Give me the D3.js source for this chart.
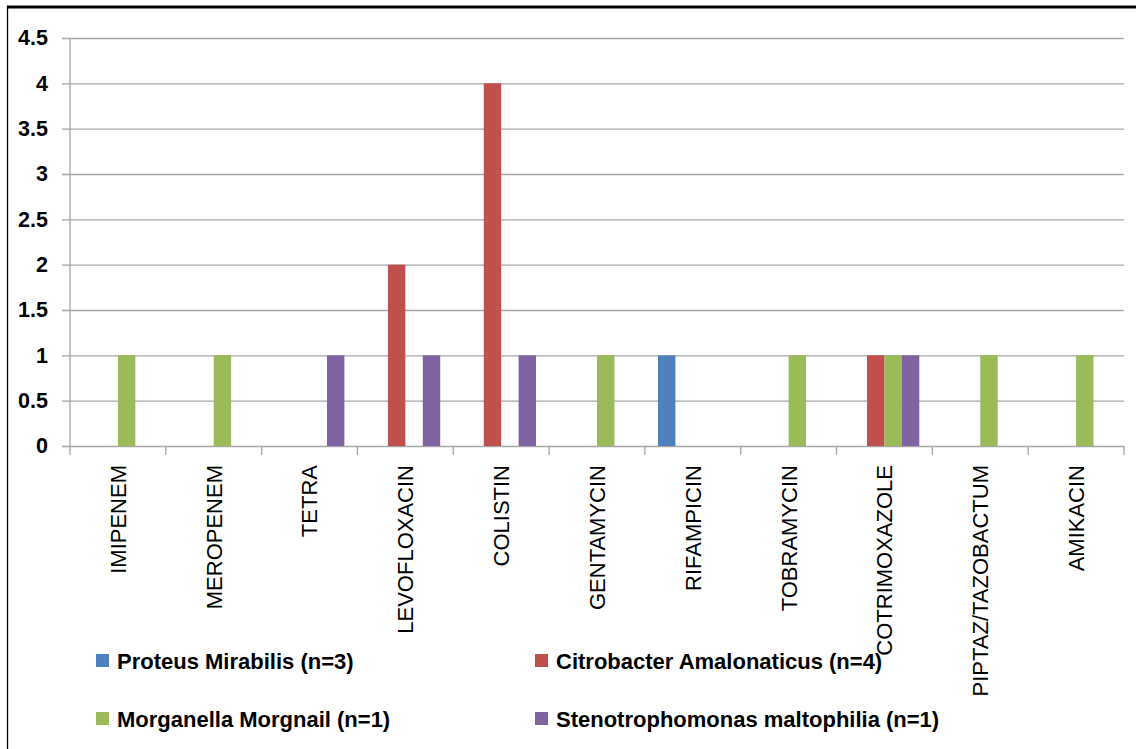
<!DOCTYPE html>
<html>
<head>
<meta charset="utf-8">
<script src="https://cdn.jsdelivr.net/npm/d3@7"></script>
<style>
  body { margin: 0; background: #fff; }
  svg { display: block; }
  .axis text { font-family: "Liberation Sans", Arial, sans-serif; fill: #000; }
</style>
</head>
<body>
<svg id="chart"></svg>
<script>
// antibiotics on the x axis
const categories = ['IMIPENEM', 'MEROPENEM', 'TETRA', 'LEVOFLOXACIN', 'COLISTIN', 'GENTAMYCIN',
  'RIFAMPICIN', 'TOBRAMYCIN', 'COTRIMOXAZOLE', 'PIPTAZ/TAZOBACTUM', 'AMIKACIN'];

const seriesNames = ['Proteus Mirabilis (n=3)', 'Citrobacter Amalonaticus (n=4)',
  'Morganella Morgnail (n=1)', 'Stenotrophomonas maltophilia (n=1)'];

// one value per category, per series
const proteus     = [0, 0, 0, 0, 0, 0, 1, 0, 0, 0, 0];
const citrobacter = [0, 0, 0, 2, 4, 0, 0, 0, 1, 0, 0];
const morganella  = [1, 1, 0, 0, 0, 1, 0, 1, 1, 1, 1];
const steno       = [0, 0, 1, 1, 1, 0, 0, 0, 1, 0, 0];

const yTicks = [0, 0.5, 1, 1.5, 2, 2.5, 3, 3.5, 4, 4.5];

const colors = ['#4F81BD', '#C0504D', '#9BBB59', '#8064A2'];

class GroupedBars {
  constructor(_config, _data) {
    this.config = {
      parentElement: _config.parentElement,
      containerWidth: _config.containerWidth || 1136,
      containerHeight: _config.containerHeight || 749,
      margin: _config.margin || {top: 38, right: 12, bottom: 303, left: 70}
    };
    this.data = _data;
    this.initVis();
  }

  initVis() {
    let vis = this;
    vis.width = vis.config.containerWidth - vis.config.margin.left - vis.config.margin.right;
    vis.height = vis.config.containerHeight - vis.config.margin.top - vis.config.margin.bottom;

    vis.svg = d3.select(vis.config.parentElement)
      .attr('width', vis.config.containerWidth)
      .attr('height', vis.config.containerHeight);

    // frame of the picture (top and left only)
    vis.svg.append('line')
      .attr('x1', 7).attr('x2', vis.config.containerWidth).attr('y1', 7).attr('y2', 7)
      .attr('stroke', '#000').attr('stroke-width', 3);
    vis.svg.append('line')
      .attr('x1', 7.5).attr('x2', 7.5).attr('y1', 6).attr('y2', vis.config.containerHeight)
      .attr('stroke', '#000').attr('stroke-width', 1.3);

    vis.chart = vis.svg.append('g')
      .attr('transform', `translate(${vis.config.margin.left},${vis.config.margin.top})`);

    vis.yScale = d3.scaleLinear().domain([0, 4.5]).range([vis.height, 0]);
    vis.xScale = d3.scaleBand().domain(categories).range([0, vis.width]).padding(0);

    // Excel style gap: bars take 4 / 5.5 of the band
    let bw = vis.xScale.bandwidth() / 5.5;
    let off = (vis.xScale.bandwidth() - 4 * bw) / 2;
    vis.xSubgroup = d3.scaleBand()
      .domain(seriesNames)
      .range([off, off + 4 * bw])
      .padding(0);

    vis.color = d3.scaleOrdinal().domain(seriesNames).range(colors);

    vis.renderVis();
  }

  renderVis() {
    let vis = this;

    // horizontal gridlines + y labels
    let yAxis = d3.axisLeft(vis.yScale)
      .tickValues(yTicks)
      .tickSize(-vis.width - 8)
      .tickFormat(d => d);
    let yAxisG = vis.chart.append('g')
      .attr('class', 'axis y-axis')
      .attr('transform', 'translate(-8,0)')
      .call(yAxis);
    yAxisG.select('.domain').remove();
    yAxisG.selectAll('line').attr('stroke', '#a6a6a6').attr('stroke-width', 1.3);
    yAxisG.selectAll('text')
      .attr('x', -14)
      .style('font-size', '21.5px')
      .style('font-weight', 'bold');

    // vertical axis line
    vis.chart.append('line')
      .attr('x1', 0).attr('x2', 0)
      .attr('y1', 0).attr('y2', vis.height + 9)
      .attr('stroke', '#a6a6a6').attr('stroke-width', 1.3);

    // x axis ticks at band edges
    vis.chart.append('g')
      .selectAll('line')
      .data(categories)
      .join('line')
      .attr('x1', d => vis.xScale(d) + vis.xScale.bandwidth())
      .attr('x2', d => vis.xScale(d) + vis.xScale.bandwidth())
      .attr('y1', vis.height).attr('y2', vis.height + 9)
      .attr('stroke', '#a6a6a6').attr('stroke-width', 1.3);

    // x labels, rotated
    vis.chart.append('g')
      .attr('class', 'axis x-axis')
      .selectAll('text')
      .data(categories)
      .join('text')
      .attr('transform', d => `translate(${vis.xScale(d) + vis.xScale.bandwidth() / 2},${vis.height + 19}) rotate(-90)`)
      .attr('text-anchor', 'end')
      .attr('dy', '0.36em')
      .style('font-size', '22px')
      .text(d => d);

    // bars
    vis.chart.append('g')
      .selectAll('g')
      .data(vis.data)
      .join('g')
      .attr('transform', d => `translate(${vis.xScale(d.group)},0)`)
      .selectAll('rect')
      .data(d => seriesNames.map(key => ({key: key, value: d[key]})))
      .join('rect')
      .filter(d => d.value > 0)
      .attr('x', d => vis.xSubgroup(d.key))
      .attr('y', d => vis.yScale(d.value))
      .attr('width', vis.xSubgroup.bandwidth())
      .attr('height', d => vis.height - vis.yScale(d.value))
      .attr('fill', d => vis.color(d.key));

    // legend, two columns
    let legendPos = [[96, 654], [535, 654], [96, 712], [535, 712]];
    let legend = vis.svg.append('g')
      .selectAll('g')
      .data(seriesNames)
      .join('g')
      .attr('transform', (d, i) => `translate(${legendPos[i][0]},${legendPos[i][1]})`);
    legend.append('rect')
      .attr('width', 13).attr('height', 13)
      .attr('fill', d => vis.color(d));
    legend.append('text')
      .attr('x', 21).attr('y', 14.5)
      .style('font-family', '"Liberation Sans", Arial, sans-serif')
      .style('font-size', '22px')
      .style('font-weight', 'bold')
      .text(d => d);
  }
}

let tableData = categories.map((c, i) => ({
  group: c,
  [seriesNames[0]]: proteus[i],
  [seriesNames[1]]: citrobacter[i],
  [seriesNames[2]]: morganella[i],
  [seriesNames[3]]: steno[i]
}));

new GroupedBars({parentElement: '#chart'}, tableData);
</script>
</body>
</html>
